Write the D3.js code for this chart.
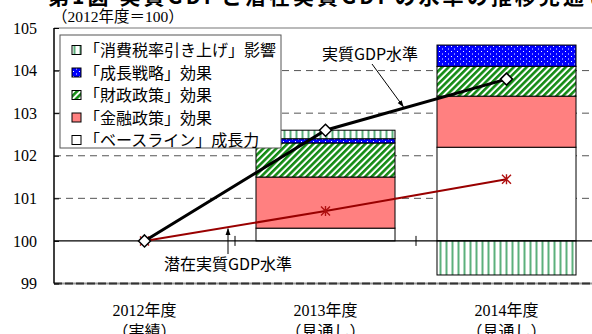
<!DOCTYPE html>
<html>
<head>
<meta charset="utf-8">
<script src="https://cdn.jsdelivr.net/npm/d3@7"></script>
<style>
  html, body { margin: 0; padding: 0; background: #fff; }
  svg { display: block; }
</style>
</head>
<body>
<script>
// Fiscal years and their status labels
const years = ["2012年度", "2013年度", "2014年度"];
const yearNotes = ["（実績）", "（見通し）", "（見通し）"];

// Contributions stacked on top of the 2012 level (percentage points)
const baselineGrowth = [0, 0.3, 2.2];
const monetaryEffect = [0, 1.2, 1.2];
const fiscalEffect = [0, 0.8, 0.7];
const growthStrategy = [0, 0.1, 0.5];
const taxHikeEffect = [0, 0.2, -0.8];

// Levels (FY2012 = 100)
const realGDP = [100, 102.6, 103.8];
const potentialGDP = [100, 100.7, 101.45];

const yTicks = [99, 100, 101, 102, 103, 104, 105];

const seriesKeys = ["baseline", "monetary", "fiscal", "growth", "tax"];
const legendNames = {
  tax: "「消費税率引き上げ」影響",
  growth: "「成長戦略」効果",
  fiscal: "「財政政策」効果",
  monetary: "「金融政策」効果",
  baseline: "「ベースライン」成長力"
};
const legendOrder = ["tax", "growth", "fiscal", "monetary", "baseline"];

const W = 592, H = 334;
const svg = d3.select("body").append("svg").attr("width", W).attr("height", H);

const serif = "'Liberation Serif', 'Noto Sans CJK JP', serif";
const sans = "'Noto Sans CJK JP', 'Noto Sans', sans-serif";

// Fill patterns
const defs = svg.append("defs");
const pTax = defs.append("pattern").attr("id", "pTax").attr("patternUnits", "userSpaceOnUse")
  .attr("width", 6).attr("height", 6);
pTax.append("rect").attr("width", 6).attr("height", 6).attr("fill", "#fff");
pTax.append("rect").attr("x", 1.5).attr("width", 2).attr("height", 6).attr("fill", "#5cb07c");

const pGrowth = defs.append("pattern").attr("id", "pGrowth").attr("patternUnits", "userSpaceOnUse")
  .attr("width", 6).attr("height", 5);
pGrowth.append("rect").attr("width", 6).attr("height", 5).attr("fill", "#0000ff");
pGrowth.append("rect").attr("x", 1).attr("y", 1).attr("width", 1).attr("height", 1).attr("fill", "#fff");
pGrowth.append("rect").attr("x", 4).attr("y", 3.5).attr("width", 1).attr("height", 1).attr("fill", "#fff");

const pFiscal = defs.append("pattern").attr("id", "pFiscal").attr("patternUnits", "userSpaceOnUse")
  .attr("width", 4.6).attr("height", 4.6).attr("patternTransform", "rotate(45)");
pFiscal.append("rect").attr("width", 4.6).attr("height", 4.6).attr("fill", "#fff");
pFiscal.append("rect").attr("width", 2.6).attr("height", 4.6).attr("fill", "#138a13");

const fills = {
  baseline: "#ffffff",
  monetary: "#ff8080",
  fiscal: "url(#pFiscal)",
  growth: "url(#pGrowth)",
  tax: "url(#pTax)"
};

const arrow = defs.append("marker").attr("id", "arrowHead")
  .attr("viewBox", "0 0 10 10").attr("refX", 9).attr("refY", 5)
  .attr("markerWidth", 7).attr("markerHeight", 7).attr("orient", "auto-start-reverse")
  .attr("markerUnits", "userSpaceOnUse");
arrow.append("path").attr("d", "M0,1.5 L10,5 L0,8.5 Z").attr("fill", "#000");

// Scales
const plotL = 54, plotR = 597, plotT = 28, plotB = 283.5;
const x = d3.scaleBand().domain(years).range([plotL, plotR]).paddingInner(0.232).paddingOuter(0.116);
const xc = d => x(d) + x.bandwidth() / 2;
const y = d3.scaleLinear().domain([99, 105]).range([plotB, plotT]);

// Title (top of page)
svg.append("text").attr("x", 48).attr("y", 4)
  .attr("font-family", sans).attr("font-weight", "bold").attr("font-size", 21)
  .attr("textLength", 560).attr("lengthAdjust", "spacing")
  .text("第1図 実質GDPと潜在実質GDPの水準の推移見通し");

svg.append("text").attr("x", 52).attr("y", 22)
  .attr("font-family", serif).attr("font-size", 15.5)
  .text("（2012年度＝100）");

// Horizontal gridlines
svg.append("g").selectAll("line").data(yTicks.filter(v => v > 100 && v < 105)).join("line")
  .attr("x1", plotL).attr("x2", W)
  .attr("y1", d => y(d)).attr("y2", d => y(d))
  .attr("stroke", "#555").attr("stroke-width", 1).attr("stroke-dasharray", "7,5");

// Plot frame
svg.append("line").attr("x1", plotL).attr("x2", W).attr("y1", y(105)).attr("y2", y(105))
  .attr("stroke", "#777").attr("stroke-width", 1.2);
svg.append("line").attr("x1", plotL).attr("x2", W).attr("y1", y(99)).attr("y2", y(99))
  .attr("stroke", "#999").attr("stroke-width", 2);
svg.append("line").attr("x1", plotL).attr("x2", W).attr("y1", y(99)).attr("y2", y(99))
  .attr("stroke", "#333").attr("stroke-width", 2).attr("stroke-dasharray", "8,3");

// Stacked contribution bars
const rows = years.map((yr, i) => ({
  year: yr,
  baseline: baselineGrowth[i],
  monetary: monetaryEffect[i],
  fiscal: fiscalEffect[i],
  growth: growthStrategy[i],
  tax: taxHikeEffect[i]
}));
const stacked = d3.stack().keys(seriesKeys).offset(d3.stackOffsetDiverging)(rows);

const barG = svg.append("g");
stacked.forEach(layer => {
  barG.append("g").selectAll("rect").data(layer.filter(d => d[1] !== d[0])).join("rect")
    .attr("x", d => x(d.data.year))
    .attr("width", x.bandwidth())
    .attr("y", d => y(100 + Math.max(d[0], d[1])))
    .attr("height", d => Math.abs(y(100 + d[0]) - y(100 + d[1])))
    .attr("fill", fills[layer.key])
    .attr("stroke", "#000").attr("stroke-width", 1);
});

// Category axis at 100
const catAxis = svg.append("g").attr("transform", `translate(0,${y(100)})`);
catAxis.append("line").attr("x1", plotL).attr("x2", W).attr("stroke", "#000").attr("stroke-width", 1.2);
catAxis.selectAll(".sep").data(years.slice(1)).join("line")
  .attr("x1", d => x(d) - x.step() * x.paddingInner() / 2)
  .attr("x2", d => x(d) - x.step() * x.paddingInner() / 2)
  .attr("y1", -5).attr("y2", 5).attr("stroke", "#000").attr("stroke-width", 1);

// Value axis
const yAxis = svg.append("g").attr("transform", `translate(${plotL},0)`)
  .call(d3.axisLeft(y).tickValues(yTicks).tickSize(-5).tickPadding(17).tickFormat(d3.format("d")));
yAxis.select(".domain").attr("stroke", "#000").attr("stroke-width", 1.5).attr("d", `M0,${plotT}V${plotB}`);
yAxis.selectAll(".tick line").attr("stroke", "#000");
yAxis.selectAll("text").attr("font-family", serif).attr("font-size", 16).attr("fill", "#000");

// Category labels
const xl = svg.append("g");
xl.selectAll(".yr").data(years).join("text")
  .attr("x", d => xc(d)).attr("y", 316).attr("text-anchor", "middle")
  .attr("font-family", serif).attr("font-size", 16).text(d => d);
xl.selectAll(".nt").data(years).join("text")
  .attr("x", d => xc(d)).attr("y", 337).attr("text-anchor", "middle")
  .attr("font-family", serif).attr("font-size", 16).text((d, i) => yearNotes[i]);

// Potential GDP line
const potPts = years.map((yr, i) => [xc(yr), y(potentialGDP[i])]);
svg.append("path").attr("d", d3.line()(potPts))
  .attr("fill", "none").attr("stroke", "#990000").attr("stroke-width", 2);
const starG = svg.append("g").selectAll("g").data(potPts).join("g")
  .attr("transform", d => `translate(${d[0]},${d[1]})`);
starG.append("path").attr("d", "M-4.5,-4.5L4.5,4.5M-4.5,4.5L4.5,-4.5M0,-5L0,5")
  .attr("stroke", "#b01010").attr("stroke-width", 1.4).attr("fill", "none");

// Real GDP line
const gdpPts = years.map((yr, i) => [xc(yr), y(realGDP[i])]);
svg.append("path").attr("d", d3.line()(gdpPts))
  .attr("fill", "none").attr("stroke", "#000").attr("stroke-width", 3);
svg.append("g").selectAll("path").data(gdpPts).join("path")
  .attr("transform", d => `translate(${d[0]},${d[1]})`)
  .attr("d", "M0,-6L6,0L0,6L-6,0Z")
  .attr("fill", "#fff").attr("stroke", "#000").attr("stroke-width", 1.5);

// Legend
const lg = svg.append("g").attr("transform", "translate(60,35)");
lg.append("rect").attr("width", 221).attr("height", 113)
  .attr("fill", "#fff").attr("stroke", "#555").attr("stroke-width", 1);
legendOrder.forEach((k, i) => {
  const cy = 15 + i * 22.5;
  lg.append("rect").attr("x", 12).attr("y", cy - 4.5).attr("width", 9).attr("height", 9)
    .attr("fill", fills[k]).attr("stroke", "#000").attr("stroke-width", 1);
  lg.append("text").attr("x", 24).attr("y", cy + 6)
    .attr("font-family", sans).attr("font-size", 16).text(legendNames[k]);
});

// Annotations
svg.append("text").attr("x", 370).attr("y", 60).attr("text-anchor", "middle")
  .attr("font-family", sans).attr("font-size", 16).text("実質GDP水準");
const tG = 0.43;
svg.append("line")
  .attr("x1", 372).attr("y1", 64)
  .attr("x2", xc(years[1]) + tG * (xc(years[2]) - xc(years[1])))
  .attr("y2", y(realGDP[1] + tG * (realGDP[2] - realGDP[1])) - 1.5)
  .attr("stroke", "#000").attr("stroke-width", 1).attr("marker-end", "url(#arrowHead)");

svg.append("text").attr("x", 228).attr("y", 270).attr("text-anchor", "middle")
  .attr("font-family", sans).attr("font-size", 16).text("潜在実質GDP水準");
const tP = (228 - xc(years[0])) / (xc(years[1]) - xc(years[0]));
svg.append("line")
  .attr("x1", 228).attr("y1", 254)
  .attr("x2", 228).attr("y2", y(potentialGDP[0] + tP * (potentialGDP[1] - potentialGDP[0])) + 1.5)
  .attr("stroke", "#000").attr("stroke-width", 1).attr("marker-end", "url(#arrowHead)");
</script>
</body>
</html>
